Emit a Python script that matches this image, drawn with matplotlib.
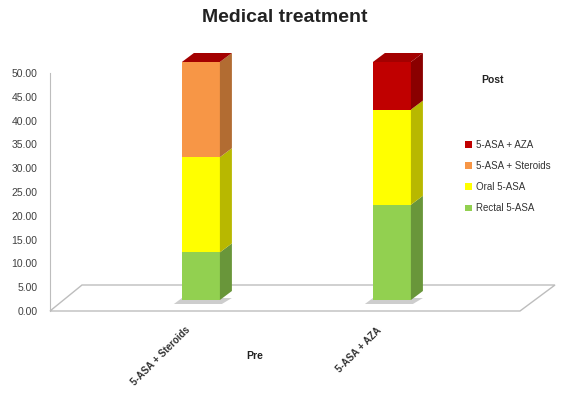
import numpy as np
import matplotlib
matplotlib.use('Agg')
from matplotlib import pyplot as plt
from matplotlib.patches import Polygon, Patch
from matplotlib.colors import to_rgb

categories = ['5-ASA + Steroids', '5-ASA + AZA']
series = ['Rectal 5-ASA', 'Oral 5-ASA', '5-ASA + Steroids', '5-ASA + AZA']
rectal = [10, 20]
oral = [20, 20]
steroids = [20, 0]
aza = [0, 10]
yticks = np.arange(0, 55, 5)

colors = ['#92D050', '#FFFF00', '#F79646', '#C00000']
values = [rectal, oral, steroids, aza]

plt.rcParams['font.family'] = ['Liberation Sans', 'DejaVu Sans']

W, H = 569, 397
fig = plt.figure(figsize=(W / 100, H / 100), dpi=100)
# axes box in pixels: x 50..560, y 311..73
ax_l, ax_r, ax_b, ax_t = 50, 560, 311, 73
ax = fig.add_axes([ax_l / W, 1 - ax_b / H, (ax_r - ax_l) / W, (ax_b - ax_t) / H])
ax.set_ylim(0, 50)
ax.set_xlim(-0.79, 1.88)
ppx = (ax_r - ax_l) / (1.88 + 0.79)   # pixels per x unit
ppy = (ax_b - ax_t) / 50.0            # pixels per y unit


def dx(px):
    return px / ppx


def dy(px):
    return px / ppy


def shade(c, f):
    r, g, b = to_rgb(c)
    return (r * f, g * f, b * f)


# floor (depth 32px right, 26px up)
floor_x0, floor_x1 = -0.79, dx(470) - 0.79
floor = Polygon([(floor_x0, 0), (floor_x1, 0), (floor_x1 + dx(35), dy(26)),
                 (floor_x0 + dx(32), dy(26))], closed=True, facecolor='white',
                edgecolor='#bdbdbd', lw=1.0, clip_on=False, zorder=1)
ax.add_patch(floor)

bar_w = dx(38)
front_off = dy(11)     # bar front face sits inside floor depth
sx, sy = dx(12), dy(9)  # side depth

for i in range(len(categories)):
    x0 = i - bar_w / 2
    x1 = i + bar_w / 2
    # shadow
    ax.add_patch(Polygon([(x0 - dx(8), front_off - dy(4)), (x1 + dx(2), front_off - dy(4)),
                          (x1 + sx, front_off + dy(2)), (x0, front_off + dy(2))],
                         closed=True, facecolor='#b8b8b8', edgecolor='none',
                         alpha=0.7, zorder=2, clip_on=False))
    bottom = front_off
    top_color = colors[-1]
    for vals, c in zip(values, colors):
        v = vals[i]
        if v <= 0:
            continue
        y0, y1 = bottom, bottom + v
        ax.add_patch(Polygon([(x0, y0), (x1, y0), (x1, y1), (x0, y1)], closed=True,
                             facecolor=c, edgecolor='none', zorder=3, clip_on=False))
        ax.add_patch(Polygon([(x1, y0), (x1 + sx, y0 + sy), (x1 + sx, y1 + sy), (x1, y1)],
                             closed=True, facecolor=shade(c, 0.72), edgecolor='none',
                             zorder=3, clip_on=False))
        bottom = y1
    ax.add_patch(Polygon([(x0, bottom), (x1, bottom), (x1 + sx, bottom + sy), (x0 + sx, bottom + sy)],
                         closed=True, facecolor=shade(top_color, 0.85), edgecolor='none',
                         zorder=3, clip_on=False))
    ax.annotate(categories[i], xy=(i, 0), xytext=(-16, -14), textcoords='offset pixels',
                rotation=45, ha='right', va='top', fontsize=7, fontweight='bold',
                color='#333333', rotation_mode='anchor')

for s in ['top', 'right', 'bottom']:
    ax.spines[s].set_visible(False)
ax.spines['left'].set_color('#bdbdbd')
ax.set_xticks([])
ax.set_yticks(yticks)
ax.set_yticklabels([f'{t:.2f}' for t in yticks], fontsize=7.5, color='#404040')
ax.tick_params(axis='y', length=0, pad=9)
ax.patch.set_visible(False)

fig.text(285 / W, 1 - 17 / H, 'Medical treatment', ha='center', va='center',
         fontsize=14, fontweight='bold', color='#222222')
fig.text(255 / W, 1 - 356 / H, 'Pre', ha='center', va='center',
         fontsize=7.5, fontweight='bold', color='#222222')
fig.text(493 / W, 1 - 80 / H, 'Post', ha='center', va='center',
         fontsize=7.5, fontweight='bold', color='#222222')

handles = [Patch(facecolor=c, edgecolor='none', label=s)
           for s, c in zip(series, colors)][::-1]
fig.legend(handles=handles, loc='upper left', bbox_to_anchor=(461 / W, 1 - 136 / H),
           frameon=False, fontsize=7, labelspacing=1.15, handlelength=0.7,
           handleheight=0.7, handletextpad=0.4, borderaxespad=0, labelcolor='#333333')

fig.savefig('out.png', dpi=100)
